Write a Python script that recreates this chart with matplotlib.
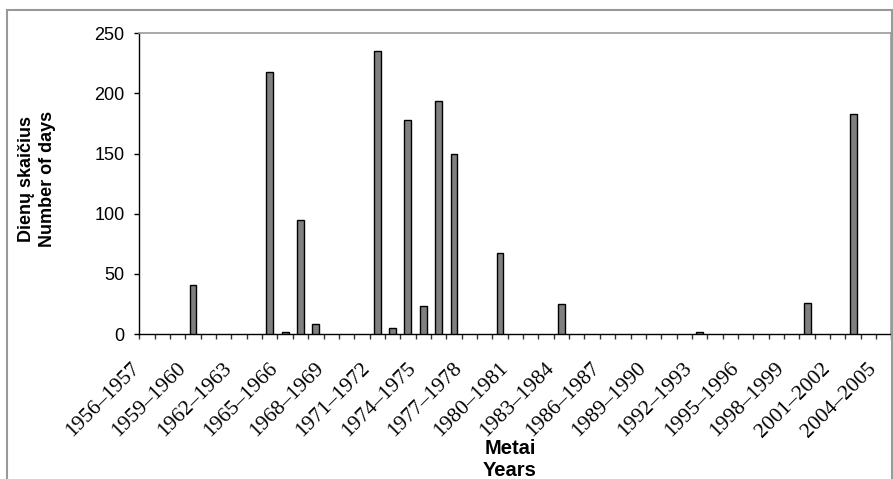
import numpy as np
import matplotlib.pyplot as plt
from matplotlib.patches import Rectangle
from matplotlib.transforms import ScaledTranslation

plt.rcParams['font.family'] = ['Liberation Sans', 'DejaVu Sans']

first_years = list(range(1956, 2005))
seasons = ['%d\u2013%d' % (y, y + 1) for y in first_years]

# days per season, zero unless listed
days = [0] * len(seasons)
nonzero = {
    1959: 41, 1964: 218, 1965: 2, 1966: 95, 1967: 8,
    1971: 235, 1972: 5, 1973: 178, 1974: 23, 1975: 194, 1976: 150,
    1979: 67, 1983: 25, 1992: 2, 1999: 26, 2002: 183,
}
for y, v in nonzero.items():
    days[first_years.index(y)] = v

label_step = 3

fig = plt.figure(figsize=(8.93, 4.79), dpi=100)
ax = fig.add_axes([0.156, 0.3027, 0.8423, 0.6278])

x = np.arange(len(seasons)) + 0.5
days = np.array(days)
shown = days > 0   # empty seasons have no bar at all
ax.bar(x[shown], days[shown], width=0.45, color='#808080', edgecolor='black',
       linewidth=1.0, zorder=3)

ax.set_xlim(0, len(seasons))
ax.set_ylim(0, 250)
ax.set_yticks(range(0, 251, 50))
ax.tick_params(axis='y', labelsize=13, length=3.6, width=1, pad=7)

ax.set_xticks(x[::label_step])
ax.set_xticklabels(seasons[::label_step], rotation=45, ha='right', va='center',
                   rotation_mode='anchor', family=['Liberation Serif'], fontsize=15.5)
ax.set_xticks(np.arange(len(seasons) + 1), minor=True)
ax.tick_params(axis='x', which='major', length=0, pad=20)
ax.tick_params(axis='x', which='minor', length=3.6, width=1, color='#333333')
shift = ScaledTranslation(-0.10, -0.04, fig.dpi_scale_trans)
for lab in ax.get_xticklabels():
    lab.set_transform(lab.get_transform() + shift)

for side in ['top', 'right']:
    ax.spines[side].set_color('#999999')
    ax.spines[side].set_linewidth(1.2)
for side in ['left', 'bottom']:
    ax.spines[side].set_color('black')
    ax.spines[side].set_linewidth(1.0)

fig.text(0.0415, 0.627, 'Dienų skaičius\nNumber of days', rotation=90, ha='center', va='center',
         fontsize=13, fontweight='bold', linespacing=1.25)
fig.text(0.571, 0.0407, 'Metai\nYears', ha='center', va='center',
         fontsize=14.5, fontweight='bold', linespacing=1.2)

# outer chart border
fig.patches.append(Rectangle((7 / 893, -0.05), 885 / 893, 1.05 - 10 / 479,
                             transform=fig.transFigure, fill=False,
                             edgecolor='#999999', linewidth=1.5))

plt.savefig('out.png', dpi=100)
